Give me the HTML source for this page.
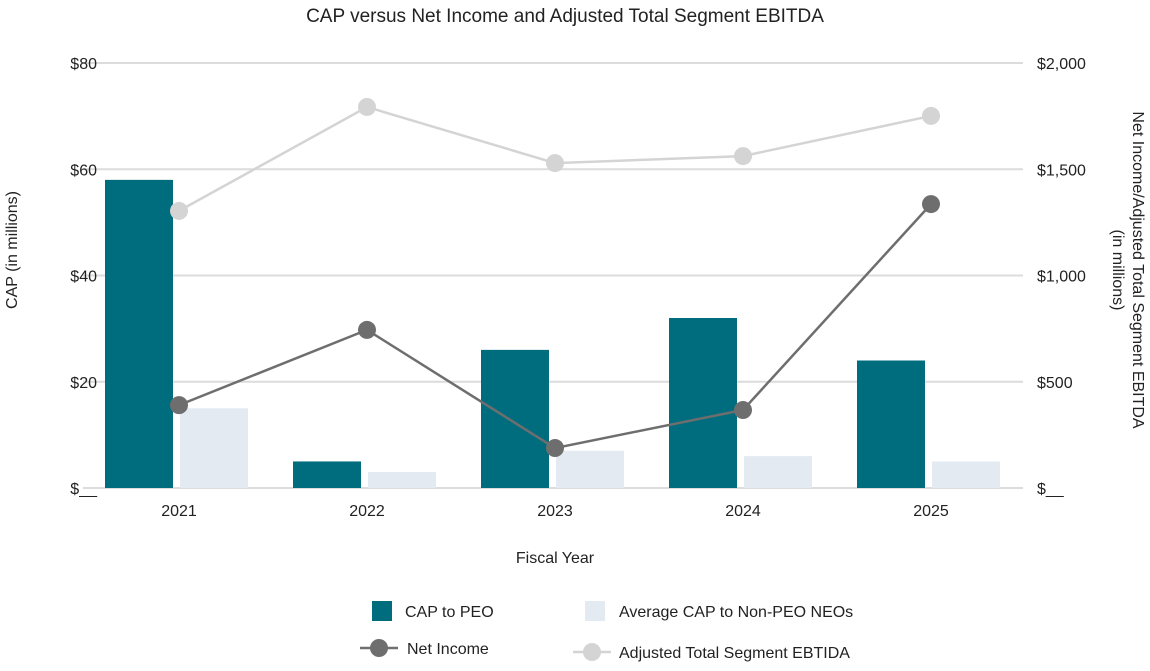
<!DOCTYPE html>
<html><head><meta charset="utf-8"><style>
body{margin:0;background:#fff;font-family:"Liberation Sans",sans-serif;}
svg text{font-family:"Liberation Sans",sans-serif;fill:#222;}
</style></head><body>
<svg id="chart" width="1150" height="666" xmlns="http://www.w3.org/2000/svg">
<text x="565" y="22" text-anchor="middle" font-size="19">CAP versus Net Income and Adjusted Total Segment EBITDA</text>
<g id="grid"></g><g id="bars"></g><g id="lines"></g><g id="axes"></g>
<text transform="translate(17,250) rotate(-90)" text-anchor="middle" font-size="16">CAP (in millions)</text>
<text transform="translate(1133,270) rotate(90)" text-anchor="middle" font-size="16">Net Income/Adjusted Total Segment EBITDA</text>
<text transform="translate(1113,270) rotate(90)" text-anchor="middle" font-size="16">(in millions)</text>
<text x="555" y="563" text-anchor="middle" font-size="16">Fiscal Year</text>
<g>
<rect x="372" y="601" width="20" height="20" fill="#006d7e"/>
<text x="405" y="617" font-size="16">CAP to PEO</text>
<rect x="585" y="601" width="20" height="20" fill="#e3eaf1"/>
<text x="619" y="617" font-size="16">Average CAP to Non-PEO NEOs</text>
<line x1="360" y1="648" x2="398" y2="648" stroke="#707070" stroke-width="2.5"/>
<circle cx="379" cy="648" r="9" fill="#6e6e6e"/>
<text x="407" y="654" font-size="16">Net Income</text>
<line x1="573" y1="652" x2="611" y2="652" stroke="#d4d4d4" stroke-width="2.5"/>
<circle cx="592" cy="652" r="9" fill="#d4d4d4"/>
<text x="619" y="658" font-size="16">Adjusted Total Segment EBTIDA</text>
</g>
</svg>
<script>
const categories=["2021","2022","2023","2024","2025"];
const capPeo=[58,5,26,32,24];
const capNonPeo=[15,3,7,6,5];
const netIncome=[390,744,188,367,1336];
const ebitda=[1304,1793,1529,1562,1751];
const leftTicks=[0,20,40,60,80];
const leftTickLabels=["$__","$20","$40","$60","$80"];
const rightTicks=[0,500,1000,1500,2000];
const rightTickLabels=["$__","$500","$1,000","$1,500","$2,000"];
const NS="http://www.w3.org/2000/svg";
const X0=83,X1=1023,Y0=488,Y1=63;
const band=(X1-X0)/categories.length;
const xc=i=>X0+band*(i+0.5)+2;
const yL=v=>Y0-(v/80)*(Y0-Y1);
const yR=v=>Y0-(v/2000)*(Y0-Y1);
function mk(tag,attrs,parent){const e=document.createElementNS(NS,tag);for(const k in attrs)e.setAttribute(k,attrs[k]);document.getElementById(parent).appendChild(e);return e;}
leftTicks.forEach((t,i)=>{
 const g=mk('line',{x1:X0,x2:X1,y1:yL(t),y2:yL(t),stroke:'#dcdcdc','stroke-width':2},'grid');
 
 
 const l=mk('text',{x:97,y:yL(t)+6,'text-anchor':'end','font-size':16},'axes');l.textContent=leftTickLabels[i];
 
 
});
rightTicks.forEach((t,i)=>{
 const l=mk('text',{x:1037,y:yR(t)+6,'font-size':16},'axes');l.textContent=rightTickLabels[i];
 
 
});
categories.forEach((c,i)=>{
 const l=mk('text',{x:xc(i),y:516,'text-anchor':'middle','font-size':16},'axes');l.textContent=c;
 
 
 const b1=mk('rect',{x:xc(i)-74,y:yL(capPeo[i]),width:68,height:Y0-yL(capPeo[i]),fill:'#006d7e'},'bars');
 
 
 const b2=mk('rect',{x:xc(i)+1,y:yL(capNonPeo[i]),width:68,height:Y0-yL(capNonPeo[i]),fill:'#e3eaf1'},'bars');
 
 
});
function series(vals,color,name){
 const p=mk('polyline',{points:vals.map((v,i)=>xc(i)+','+yR(v)).join(' '),fill:'none',stroke:color,'stroke-width':2.5},'lines');
 
 
 vals.forEach((v,i)=>{const c=mk('circle',{cx:xc(i),cy:yR(v),r:9,fill:color},'lines');
 
 });
}
series(ebitda,'#d4d4d4','ebitda');
series(netIncome,'#6e6e6e','net-income');
</script>
</body></html>
